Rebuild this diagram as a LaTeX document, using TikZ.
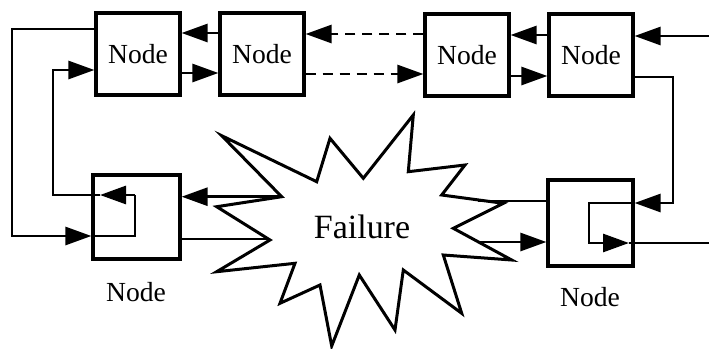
\documentclass[tikz,border=0pt]{standalone}
\usepackage{fontspec}
\setmainfont{Liberation Serif}
\usetikzlibrary{positioning, calc, arrows.meta}
\tikzset{
  box/.style={draw, line width=1.6pt, minimum width=42pt, minimum height=41pt, inner sep=0pt, font=\fontsize{13.8}{16}\selectfont},
  lbl/.style={font=\fontsize{13.8}{16}\selectfont},
  wire/.style={line width=1.4pt},
  arr/.style={wire, -{Triangle[length=13pt, width=9pt]}},
  darr/.style={arr, dash pattern=on 5pt off 3.5pt},
}

\begin{document}
\begin{tikzpicture}[x=0.5pt, y=-0.5pt]
  \useasboundingbox (0,0) rectangle (709,349);

  % Top row of nodes
  \node[box] (tl1) at (138,54) {Node};
  \node[box] (tl2) at (262,54) {Node};
  \node[box] (tr1) at (467,55) {Node};
  \node[box] (tr2) at (591,55) {Node};

  % Bottom nodes and their labels
  \node[box, minimum width=43.5pt, minimum height=42pt] (bl) at (136.5,217) {};
  \node[box, minimum width=42.5pt, minimum height=43pt] (br) at (590.5,223) {};
  \node[lbl] (bllbl) at (136,292) {Node};
  \node[lbl] (brlbl) at (590,297) {Node};

  % Failure burst
  \draw[line width=1.5pt] (221.7,135.7) -- (316.7,181.7) -- (330,138.3) -- (363.3,178.3)
    -- (413.3,115) -- (408.3,171.7) -- (465,165) -- (441.7,195) -- (503.3,203.3)
    -- (453.3,228.3) -- (511.7,260) -- (443.3,255) -- (461.7,313.3) -- (403.3,270)
    -- (395,330) -- (359.3,275) -- (331.7,346) -- (320,285) -- (280,303.3)
    -- (295,263.3) -- (216.7,271.7) -- (270,240) -- (216.7,206.7) -- (281.7,196.7) -- cycle;
  \node[font=\fontsize{17}{20}\selectfont] (fail) at (362,227) {Failure};
  \coordinate (fL1) at (281.7,196.7);
  \coordinate (fL2) at (268,239);
  \coordinate (fR1) at (478,201);
  \coordinate (fR2) at (478,242);

  % Links along the top row
  \draw[arr] ($(tl2.west)+(0,-21)$) -- ($(tl1.east)+(0,-21)$);
  \draw[arr] ($(tl1.east)+(0,19)$) -- ($(tl2.west)+(0,19)$);
  \draw[darr] ($(tr1.west)+(0,-21)$) -- ($(tl2.east)+(0,-20)$);
  \draw[darr] ($(tl2.east)+(0,20)$) -- ($(tr1.west)+(0,19)$);
  \draw[arr] ($(tr2.west)+(0,-20)$) -- ($(tr1.east)+(0,-20)$);
  \draw[arr] ($(tr1.east)+(0,21)$) -- ($(tr2.west)+(0,21)$);
  \coordinate (inR) at (709,36);
  \draw[arr] (inR) -- (tr2.east |- inR);

  % Left loop through the lower node
  \coordinate (loopO) at (12,236);
  \coordinate (loopI) at (135,195);
  \coordinate (loopT) at (100,195);
  \coordinate (loopU) at (53,70);
  \draw[arr] ($(tl1.west)+(0,-25)$) -| (loopO) -- (bl.west |- loopO);
  \draw[wire] (bl.west |- loopO) -| (loopI);
  \draw[arr] (loopI) -- (loopT);
  \draw[arr] (loopT) -| (loopU) -- (tl1.west |- loopU);

  % Right loop through the lower node
  \coordinate (rtD) at (673,203);
  \coordinate (rtI) at (589,203);
  \coordinate (rtT) at (629,243);
  \coordinate (outR) at (709,243);
  \draw[arr] ($(tr2.east)+(0,22)$) -| (rtD) -- (br.east |- rtD);
  \draw[arr] (br.east |- rtD) -- (rtI) |- (rtT);
  \draw[wire] (rtT) -- (outR);

  % Links to the failure
  \draw[arr] (fL1) -- (bl.east |- fL1);
  \draw[wire] (bl.east |- fL2) -- (fL2);
  \draw[wire] (fR1) -- (br.west |- fR1);
  \draw[arr] (fR2) -- (br.west |- fR2);
\end{tikzpicture}
\end{document}
